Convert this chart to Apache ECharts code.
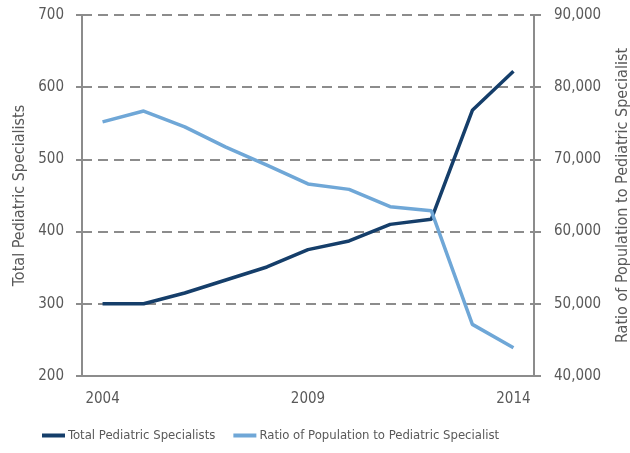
<!DOCTYPE html>
<html>
<head>
<meta charset="utf-8">
<script src="https://cdn.jsdelivr.net/npm/echarts@6/dist/echarts.min.js"></script>
<style>
  html, body { margin: 0; padding: 0; background: #fff; }
  #chart1 { width: 630px; height: 453px; }
</style>
</head>
<body>
<div id="chart1"></div>
<script>
    // data
    var years = ['2004','2005','2006','2007','2008','2009','2010','2011','2012','2013','2014'];
    var totalSpecialists = [300, 300, 315, 333, 351, 375, 387, 410, 417, 568, 622];
    var ratioPopulation = [75200, 76700, 74500, 71700, 69200, 66600, 65850, 63450, 62900, 47150, 43900];

    var fontName = "'DejaVu Sans Condensed', sans-serif";
    var textGrey = '#595959';
    var axisGrey = '#8c8c8c';

    var option = {
        animation: false,
        textStyle: { fontFamily: fontName },
        grid: { left: 82, right: 96, top: 15, bottom: 77, outerBoundsMode: 'none' },
        legend: {
            left: 37,
            bottom: 6,
            icon: 'rect',
            itemWidth: 23,
            itemHeight: 4,
            itemGap: 18,
            textStyle: { color: textGrey, fontSize: 13, fontFamily: fontName, padding: [0, 0, 0, -2] },
            data: ['Total Pediatric Specialists', 'Ratio of Population to Pediatric Specialist']
        },
        xAxis: {
            type: 'category',
            data: years,
            boundaryGap: true,
            axisLine: { lineStyle: { color: axisGrey, width: 2 } },
            axisTick: { interval: 4, length: 5, lineStyle: { color: axisGrey, width: 2 } },
            axisLabel: { interval: 4, color: textGrey, fontSize: 15, margin: 16, fontFamily: fontName },
            splitLine: { show: false }
        },
        yAxis: [{
            type: 'value',
            min: 200,
            max: 700,
            interval: 100,
            name: 'Total Pediatric Specialists',
            nameLocation: 'middle',
            nameRotate: 90,
            nameGap: 54,
            nameTextStyle: { color: textGrey, fontSize: 16, fontFamily: fontName },
            axisLine: { show: true, lineStyle: { color: axisGrey, width: 2 } },
            axisTick: { show: true, length: 6, lineStyle: { color: axisGrey, width: 2 } },
            axisLabel: { color: textGrey, fontSize: 15, margin: 18, fontFamily: fontName },
            splitLine: { lineStyle: { color: axisGrey, width: 2, type: [10, 6] } }
        }, {
            type: 'value',
            min: 40000,
            max: 90000,
            interval: 10000,
            name: 'Ratio of Population to Pediatric Specialist',
            nameLocation: 'middle',
            nameRotate: 90,
            nameGap: 81,
            nameTextStyle: { color: textGrey, fontSize: 16, fontFamily: fontName },
            axisLine: { show: true, lineStyle: { color: axisGrey, width: 2 } },
            axisTick: { show: true, length: 7, lineStyle: { color: axisGrey, width: 2 } },
            axisLabel: { color: textGrey, fontSize: 15, margin: 20, fontFamily: fontName },
            splitLine: { show: false }
        }],
        series: [{
            name: 'Total Pediatric Specialists',
            type: 'line',
            yAxisIndex: 0,
            data: totalSpecialists,
            symbol: 'none',
            color: '#153E6A',
            lineStyle: { width: 3.5, color: '#153E6A' }
        }, {
            name: 'Ratio of Population to Pediatric Specialist',
            type: 'line',
            yAxisIndex: 1,
            data: ratioPopulation,
            symbol: 'none',
            color: '#6FA7D7',
            lineStyle: { width: 3.5, color: '#6FA7D7' }
        }]
    };

    var myChart = echarts.init(document.getElementById('chart1'));
    myChart.setOption(option);
</script>
</body>
</html>
